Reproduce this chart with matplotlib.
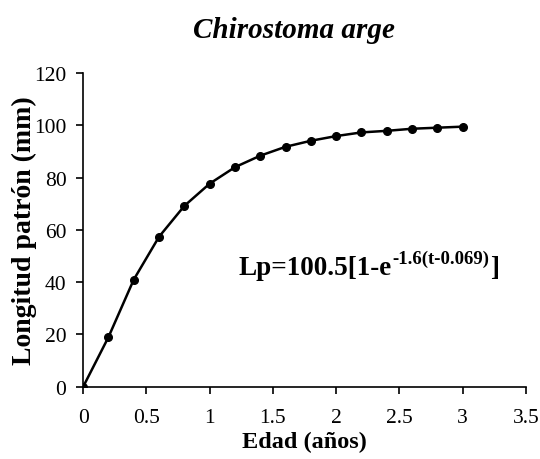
import matplotlib.pyplot as plt

plt.rcParams['font.family'] = ['Liberation Serif', 'DejaVu Serif']

edad = [0, 0.2, 0.4, 0.6, 0.8, 1.0, 1.2, 1.4, 1.6, 1.8, 2.0, 2.2, 2.4, 2.6, 2.8, 3.0]
longitud = [0, 19.0, 41.0, 57.4, 69.2, 77.7, 84.0, 88.4, 91.8, 94.1, 95.9, 97.3, 97.9, 98.7, 99.1, 99.5]
xticks = [0, 0.5, 1, 1.5, 2, 2.5, 3, 3.5]
xlabels = ['0', '0.5', '1', '1.5', '2', '2.5', '3', '3.5']
yticks = [0, 20, 40, 60, 80, 100, 120]

fig = plt.figure(figsize=(5.4, 4.6), dpi=100)
ax = fig.add_axes([0.154, 0.157, 0.82, 0.682])

ax.plot(edad, longitud, color='black', lw=1.8, marker='o', markersize=5.5)

ax.set_xlim(0, 3.5)
ax.set_ylim(0, 120)
ax.set_xticks(xticks)
ax.set_xticklabels(xlabels)
ax.set_yticks(yticks)
ax.tick_params(direction='out', length=5, width=1.2, labelsize=15.5)
ax.tick_params(axis='x', pad=10)
ax.tick_params(axis='y', pad=7)
for s in ['top', 'right']:
    ax.spines[s].set_visible(False)
for s in ['left', 'bottom']:
    ax.spines[s].set_linewidth(1.2)

ax.set_xlabel('Edad (años)', fontsize=17.5, fontweight='bold', labelpad=3)
ax.set_ylabel('Longitud patrón (mm)', fontsize=20, fontweight='bold', labelpad=-2)
fig.text(0.545, 0.933, 'Chirostoma arge', fontsize=21, fontweight='bold',
         fontstyle='italic', ha='center', va='center')

# ecuacion: texto base, exponente y corchete final
base_y = 43.2
t1 = ax.text(1.225, base_y, 'Lp=100.5[1-e', fontsize=19.5, fontweight='bold',
             ha='left', va='baseline')
t2 = ax.annotate('-1.6(t-0.069)', xy=(1, base_y), xycoords=(t1, 'data'),
                 xytext=(0.5, 8), textcoords='offset points',
                 fontsize=13.5, fontweight='bold', ha='left', va='baseline')
t3 = ax.annotate(']', xy=(1, base_y), xycoords=(t2, 'data'),
                 xytext=(0.5, 0), textcoords='offset points',
                 fontsize=19.5, fontweight='bold', ha='left', va='baseline')

fig.savefig('out.png', dpi=100)
